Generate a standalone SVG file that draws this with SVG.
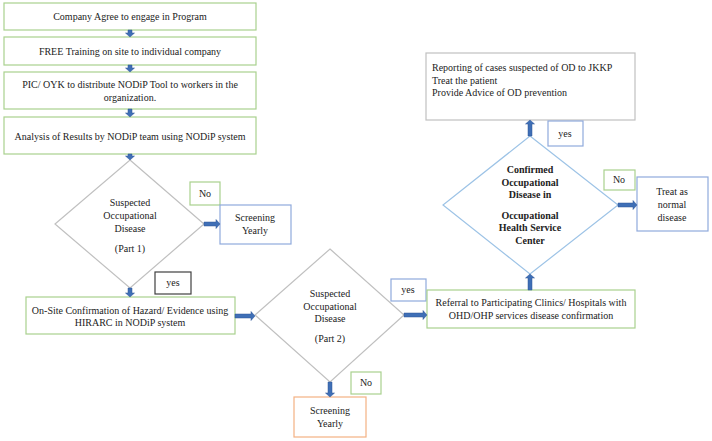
<svg xmlns="http://www.w3.org/2000/svg" width="712" height="441" viewBox="0 0 712 441">
<style>
  .t{font-family:"Liberation Serif","Times New Roman",serif;font-size:10px;fill:#222;text-anchor:middle}
  .tl{font-family:"Liberation Serif","Times New Roman",serif;font-size:10px;fill:#222}
  .b{font-weight:bold}
  .s{font-family:"Liberation Serif","Times New Roman",serif;font-size:10px;fill:#222;text-anchor:middle}
  .g{fill:#fff;stroke:#a9d18e;stroke-width:1.2}
  .bl{fill:#fff;stroke:#8faadc;stroke-width:1.2}
  .gr{fill:#fff;stroke:#c0c0c0;stroke-width:1.2}
  .dk{fill:#fff;stroke:#404040;stroke-width:1.2}
  .or{fill:#fff;stroke:#f4b183;stroke-width:1.2}
  .lb{fill:#fff;stroke:#9dc3e6;stroke-width:1.2}
  .ar{fill:#3f6fb6;stroke:#2f5597;stroke-width:0.5}
</style>
<rect width="712" height="441" fill="#fff"/>
<g id="n1"><rect class="g" x="4" y="3" width="252" height="27"/><text class="t" x="130" y="20">Company Agree to engage in Program</text></g>
<g id="n2"><rect class="g" x="4" y="37" width="252" height="28"/><text class="t" x="130" y="55">FREE Training on site to individual company</text></g>
<g id="n3"><rect class="g" x="4" y="72" width="252" height="37"/><text class="t" x="130" y="88">PIC/ OYK to distribute NODiP Tool to workers in the</text><text class="t" x="130" y="101">organization.</text></g>
<g id="n4"><rect class="g" x="4" y="117" width="252" height="37"/><text class="t" x="130" y="140">Analysis of Results by NODiP team using NODiP system</text></g>
<g id="d1"><polygon class="gr" points="130,160 204,224 130,288 55,224"/><text class="t" x="130" y="206">Suspected</text><text class="t" x="130" y="219">Occupational</text><text class="t" x="130" y="232">Disease</text><text class="t" x="130" y="252">(Part 1)</text></g>
<g id="no1"><rect class="g" x="190" y="182" width="30" height="23"/><text class="s" x="205" y="197">No</text></g>
<g id="sy1"><rect class="bl" x="220" y="205" width="71" height="39"/><text class="t" x="255" y="221">Screening</text><text class="t" x="255" y="234">Yearly</text></g>
<g id="yes1"><rect class="dk" x="155" y="272" width="36" height="22"/><text class="s" x="173" y="286">yes</text></g>
<g id="n5"><rect class="g" x="26" y="297" width="209" height="37"/><text class="t" x="130" y="314">On-Site Confirmation of Hazard/ Evidence using</text><text class="t" x="130" y="326">HIRARC in NODiP system</text></g>
<g id="d2"><polygon class="gr" points="330,249 404,315 330,382 255,315"/><text class="t" x="330" y="297">Suspected</text><text class="t" x="330" y="310">Occupational</text><text class="t" x="330" y="322">Disease</text><text class="t" x="330" y="342">(Part 2)</text></g>
<g id="yes2"><rect class="bl" x="391" y="279" width="35" height="22"/><text class="s" x="408" y="293">yes</text></g>
<g id="n6"><rect class="g" x="427" y="290" width="208" height="38"/><text class="t" x="531" y="306">Referral to Participating Clinics/ Hospitals with</text><text class="t" x="531" y="319">OHD/OHP services disease confirmation</text></g>
<g id="no2"><rect class="g" x="351" y="372" width="30" height="22"/><text class="s" x="366" y="386">No</text></g>
<g id="sy2"><rect class="or" x="294" y="397" width="72" height="40"/><text class="t" x="330" y="414">Screening</text><text class="t" x="330" y="427">Yearly</text></g>
<g id="d3"><polygon class="lb" points="530,136 618,205 530,274 443,205"/><text class="t b" x="530" y="173">Confirmed</text><text class="t b" x="530" y="186">Occupational</text><text class="t b" x="530" y="198">Disease in</text><text class="t b" x="530" y="219">Occupational</text><text class="t b" x="530" y="231">Health Service</text><text class="t b" x="530" y="244">Center</text></g>
<g id="rep"><rect class="gr" x="426" y="53" width="209" height="67"/><text class="tl" x="432" y="71">Reporting of cases suspected of OD to JKKP</text><text class="tl" x="432" y="84">Treat the patient</text><text class="tl" x="432" y="96">Provide Advice of OD prevention</text></g>
<g id="yes3"><rect class="bl" x="548" y="121" width="35" height="25"/><text class="s" x="565" y="137">yes</text></g>
<g id="no3"><rect class="g" x="604" y="170" width="31" height="20"/><text class="s" x="619" y="183">No</text></g>
<g id="tr"><rect class="bl" x="637" y="177" width="71" height="54"/><text class="t" x="672" y="195">Treat as</text><text class="t" x="672" y="208">normal</text><text class="t" x="672" y="221">disease</text></g>
<g id="connectors">
  <path class="ar" d="M128 30h4v3h2.5l-4.5 4l-4.5-4h2.5z"/>
  <path class="ar" d="M128 65h4v3h2.5l-4.5 4l-4.5-4h2.5z"/>
  <path class="ar" d="M128 109h4v4h2.5l-4.5 4l-4.5-4h2.5z"/>
  <path class="ar" d="M128 154h4v2h2.5l-4.5 4l-4.5-4h2.5z"/>
  <path class="ar" d="M204 222h12v-2.5l4 4.5l-4 4.5v-2.5h-12z"/>
  <path class="ar" d="M128 288h4v5h2.5l-4.5 4l-4.5-4h2.5z"/>
  <path class="ar" d="M235 314h16v-2.5l4 4.5l-4 4.5v-2.5h-16z"/>
  <path class="ar" d="M404 313h19v-2.5l4 4.5l-4 4.5v-2.5h-19z"/>
  <path class="ar" d="M328 382h4v11h2.5l-4.5 4l-4.5-4h2.5z"/>
  <path class="ar" d="M528 290v-12h-2.5l4.5-4l4.5 4h-2.5v12z"/>
  <path class="ar" d="M528 136v-12h-2.5l4.5-4l4.5 4h-2.5v12z"/>
  <path class="ar" d="M618 203h15v-2.5l4 4.5l-4 4.5v-2.5h-15z"/>
</g>
</svg>
